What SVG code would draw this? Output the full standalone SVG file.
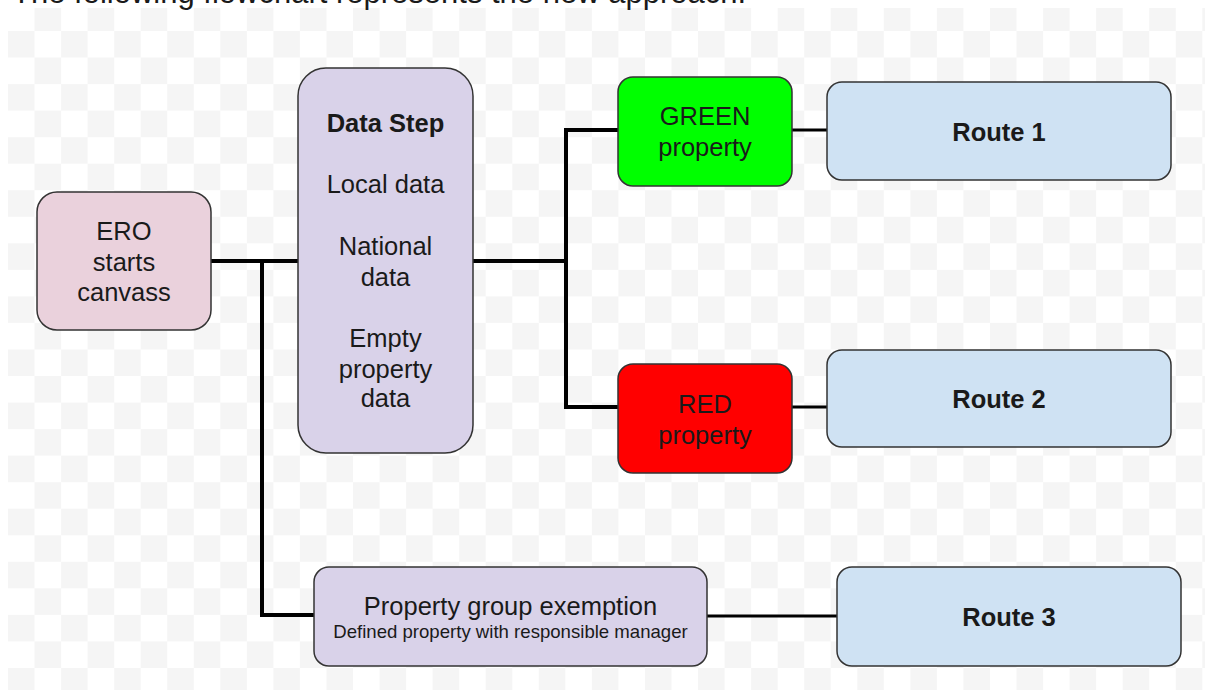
<svg xmlns="http://www.w3.org/2000/svg" width="1205" height="690" viewBox="0 0 1205 690">
  <defs>
    <pattern id="checker" patternUnits="userSpaceOnUse" x="8" y="4.46" width="53.08" height="53.08">
      <rect x="0" y="0" width="53.08" height="53.08" fill="#ffffff"/>
      <rect x="26.54" y="0" width="26.54" height="26.54" fill="#f5f5f5"/>
      <rect x="0" y="26.54" width="26.54" height="26.54" fill="#f5f5f5"/>
    </pattern>
    <style>
      .box { stroke: #333333; stroke-width: 1.5; }
      .t { font-family: "Liberation Sans", Arial, sans-serif; font-size: 25.5px; fill: #1a1a1a; text-anchor: middle; }
      .b { font-weight: bold; }
      .s { font-size: 18.6px; }
      .conn { fill: none; stroke: #000000; stroke-width: 4; stroke-linejoin: miter; }
      .thin { stroke-width: 3; }
    </style>
  </defs>
  <rect x="0" y="0" width="1205" height="690" fill="#ffffff"/>
  <rect x="8" y="8" width="1197" height="682" fill="url(#checker)"/>
  <text x="12" y="3" style="font-family: 'Liberation Sans', Arial, sans-serif; font-size: 31px; fill: #1a1a1a;">The following flowchart represents the new approach.</text>

  <g id="connectors">
    <path class="conn" d="M211 261 H299"/>
    <path class="conn" d="M262 261 V615 H314"/>
    <path class="conn" d="M472 261 H566"/>
    <path class="conn" d="M618 130 H566 V407 H618"/>
    <path class="conn thin" d="M792 130 H827"/>
    <path class="conn thin" d="M792 407 H827"/>
    <path class="conn thin" d="M707 616 H837"/>
  </g>

  <g id="ero">
    <rect class="box" x="37" y="192" width="174" height="138" rx="20" fill="#ead1dc"/>
    <text class="t" x="124" y="240">ERO</text>
    <text class="t" x="124" y="270.5">starts</text>
    <text class="t" x="124" y="301">canvass</text>
  </g>

  <g id="data-step">
    <rect class="box" x="298" y="68" width="175" height="385" rx="28" fill="#d9d2e9"/>
    <text class="t b" x="385.5" y="132">Data Step</text>
    <text class="t" x="385.5" y="193">Local data</text>
    <text class="t" x="385.5" y="255">National</text>
    <text class="t" x="385.5" y="285.5">data</text>
    <text class="t" x="385.5" y="347">Empty</text>
    <text class="t" x="385.5" y="377.5">property</text>
    <text class="t" x="385.5" y="407">data</text>
  </g>

  <g id="green">
    <rect class="box" x="618" y="77" width="174" height="109" rx="15" fill="#00ff00"/>
    <text class="t" x="705" y="125">GREEN</text>
    <text class="t" x="705" y="155.5">property</text>
  </g>

  <g id="red">
    <rect class="box" x="618" y="364" width="174" height="109" rx="15" fill="#ff0000"/>
    <text class="t" x="705" y="413">RED</text>
    <text class="t" x="705" y="443.5">property</text>
  </g>

  <g id="route1">
    <rect class="box" x="827" y="82" width="344" height="98" rx="15" fill="#cfe2f3"/>
    <text class="t b" x="999" y="141">Route 1</text>
  </g>

  <g id="route2">
    <rect class="box" x="827" y="350" width="344" height="97" rx="15" fill="#cfe2f3"/>
    <text class="t b" x="999" y="408">Route 2</text>
  </g>

  <g id="property-group">
    <rect class="box" x="314" y="567" width="393" height="99" rx="15" fill="#d9d2e9"/>
    <text class="t" x="510.5" y="615">Property group exemption</text>
    <text class="t s" x="510.5" y="638">Defined property with responsible manager</text>
  </g>

  <g id="route3">
    <rect class="box" x="837" y="567" width="344" height="99" rx="15" fill="#cfe2f3"/>
    <text class="t b" x="1009" y="626">Route 3</text>
  </g>
</svg>
